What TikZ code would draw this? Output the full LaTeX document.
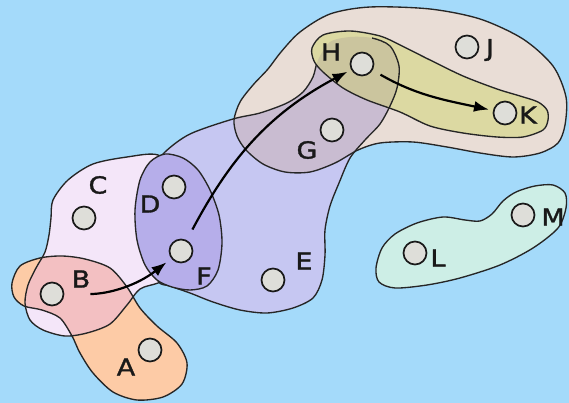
\documentclass[tikz,border=0pt]{standalone}
\usepackage{fontspec}
\setmainfont{DejaVu Sans}[FakeStretch=1.15, FakeBold=1.4]
\usetikzlibrary{arrows.meta}

\definecolor{skyback}{HTML}{A4DAFA}
\definecolor{lilac}{HTML}{F4E6F9}
\definecolor{peach}{HTML}{FDCBA6}
\definecolor{rosy}{HTML}{F3C0C2}
\definecolor{mint}{HTML}{CDEEE6}
\definecolor{periwinkle}{HTML}{C6C7F2}
\definecolor{sand}{HTML}{E9DDD6}
\definecolor{mauvish}{HTML}{C9BCD1}
\definecolor{straw}{HTML}{DCD9A2}
\definecolor{khakish}{HTML}{CBC59E}
\definecolor{dfpurple}{HTML}{B6AEEA}
\definecolor{vertgray}{HTML}{DEDED9}

% hyperedges, in pixel coordinates
\newcommand{\edgeAB}{plot[smooth cycle] coordinates {(12,283) (20,266) (40,258) (62,256) (85,259) (110,268) (127,287) (140,308) (157,326) (177,343) (187,363) (182,384) (163,397) (137,400) (113,392) (93,373) (80,353) (72,336) (60,318) (42,310) (24,306) (14,297)}}
\newcommand{\edgeBC}{plot[smooth cycle] coordinates {(53,200) (68,180) (93,164) (127,157) (158,155) (178,175) (186,230) (176,274) (158,283) (140,289) (127,305) (110,324) (87,333) (65,336) (43,330) (30,320) (25,303) (28,285) (36,268) (45,252) (49,235) (51,218)}}
\newcommand{\edgeDEFGH}{plot[smooth cycle] coordinates {(165,152) (190,134) (233,119) (260,113) (287,103) (303,92) (313,77) (318,60) (330,42) (350,37) (372,38) (390,46) (399,66) (397,88) (390,106) (380,124) (365,140) (350,158) (339,183) (330,206) (325,230) (325,255) (322,280) (313,298) (293,308) (267,313) (240,310) (213,302) (190,293) (170,286) (158,281) (150,250) (148,200) (152,170)}}
\newcommand{\edgeDF}{plot[smooth cycle] coordinates {(165,154) (183,158) (198,170) (210,190) (219,215) (222,243) (218,270) (207,286) (190,290) (172,287) (157,280) (145,265) (137,240) (135,210) (140,180) (150,162)}}
\newcommand{\edgeGHJK}{plot[smooth cycle] coordinates {(234,120) (240,102) (253,85) (268,69) (281,52) (300,32) (330,14) (370,7) (430,9) (480,19) (523,39) (553,66) (566,97) (565,125) (558,143) (540,153) (513,157) (480,153) (447,147) (413,142) (380,143) (358,150) (335,163) (310,172) (285,172) (263,164) (246,150) (237,136)}}
\newcommand{\edgeHK}{plot[smooth cycle] coordinates {(312,48) (323,35) (350,31) (380,36) (400,45) (430,60) (463,76) (497,89) (520,96) (538,102) (547,110) (548,120) (543,130) (523,137) (497,137) (463,133) (430,126) (400,112) (367,100) (343,88) (323,72) (314,61)}}
\newcommand{\edgeLM}{plot[smooth cycle] coordinates {(376,268) (382,248) (395,234) (417,223) (443,217) (465,220) (480,221) (492,214) (503,201) (516,192) (535,186) (553,185) (565,193) (566,208) (558,228) (533,248) (500,265) (460,278) (427,285) (395,288) (379,282)}}

\begin{document}
\begin{tikzpicture}[x=1pt, y=-1pt,
    vert/.style={circle, draw=black!90, fill=vertgray, line width=1.7pt, minimum size=23pt, inner sep=0pt},
    lbl/.style={font=\fontsize{23.5}{23.5}\selectfont, text=black!90, inner sep=0pt},
    hedge/.style={draw=black!85, line width=1.35pt},
    arr/.style={line width=2.2pt, -{Latex[length=15pt, width=11pt]}}]
    \useasboundingbox (0,0) rectangle (569,403);
    \fill[skyback] (0,0) rectangle (569,403);

    % A-B and B-C
    \fill[lilac] \edgeBC;
    \fill[peach] \edgeAB;
    \begin{scope}
        \clip \edgeAB;
        \fill[rosy] \edgeBC;
    \end{scope}
    \draw[hedge] \edgeBC;
    \draw[hedge] \edgeAB;

    % L-M
    \filldraw[hedge, fill=mint] \edgeLM;

    % D-E-F-G-H and G-H-J-K
    \fill[periwinkle] \edgeDEFGH;
    \fill[sand] \edgeGHJK;
    \begin{scope}
        \clip \edgeGHJK;
        \fill[mauvish] \edgeDEFGH;
    \end{scope}
    \draw[hedge] \edgeDEFGH;
    \draw[hedge] \edgeGHJK;

    % H-K
    \fill[straw] \edgeHK;
    \begin{scope}
        \clip \edgeHK;
        \fill[khakish] \edgeDEFGH;
        \clip (372,0) rectangle (569,403);
        \draw[hedge] \edgeDEFGH;
    \end{scope}
    \draw[hedge] \edgeHK;

    % D-F
    \filldraw[hedge, fill=dfpurple] \edgeDF;

    % vertices
    \node[vert] (A) at (150,350) {};
    \node[vert] (B) at (52,294) {};
    \node[vert] (C) at (84,218) {};
    \node[vert] (D) at (174,187) {};
    \node[vert] (E) at (273,280) {};
    \node[vert] (F) at (181,251) {};
    \node[vert] (G) at (332,130) {};
    \node[vert] (H) at (362,64) {};
    \node[vert] (J) at (467,47) {};
    \node[vert] (K) at (505,113) {};
    \node[vert] (L) at (415,253) {};
    \node[vert] (M) at (523,215) {};

    \node[lbl] (lA) at ([shift={(-24,17)}]A) {A};
    \node[lbl] (lB) at ([shift={(29,-15)}]B) {B};
    \node[lbl] (lC) at ([shift={(14,-33)}]C) {C};
    \node[lbl] (lD) at ([shift={(-24,17)}]D) {D};
    \node[lbl] (lE) at ([shift={(31,-19)}]E) {E};
    \node[lbl] (lF) at ([shift={(23,25)}]F) {F};
    \node[lbl] (lG) at ([shift={(-25,20)}]G) {G};
    \node[lbl] (lH) at ([shift={(-31,-12)}]H) {H};
    \node[lbl] (lJ) at ([shift={(23,3)}]J) {J};
    \node[lbl] (lK) at ([shift={(23,2)}]K) {K};
    \node[lbl] (lL) at ([shift={(23,5)}]L) {L};
    \node[lbl] (lM) at ([shift={(30,2)}]M) {M};

    % directed path
    \draw[arr, shorten <=26pt, shorten >=6pt] (B) to[out=0, in=218] (F);
    \draw[arr, shorten <=12pt, shorten >=4pt] (F) to[out=62, in=208] (H);
    \draw[arr, shorten <=9pt, shorten >=4pt] (H) to[out=-30, in=168] (K);
\end{tikzpicture}
\end{document}
